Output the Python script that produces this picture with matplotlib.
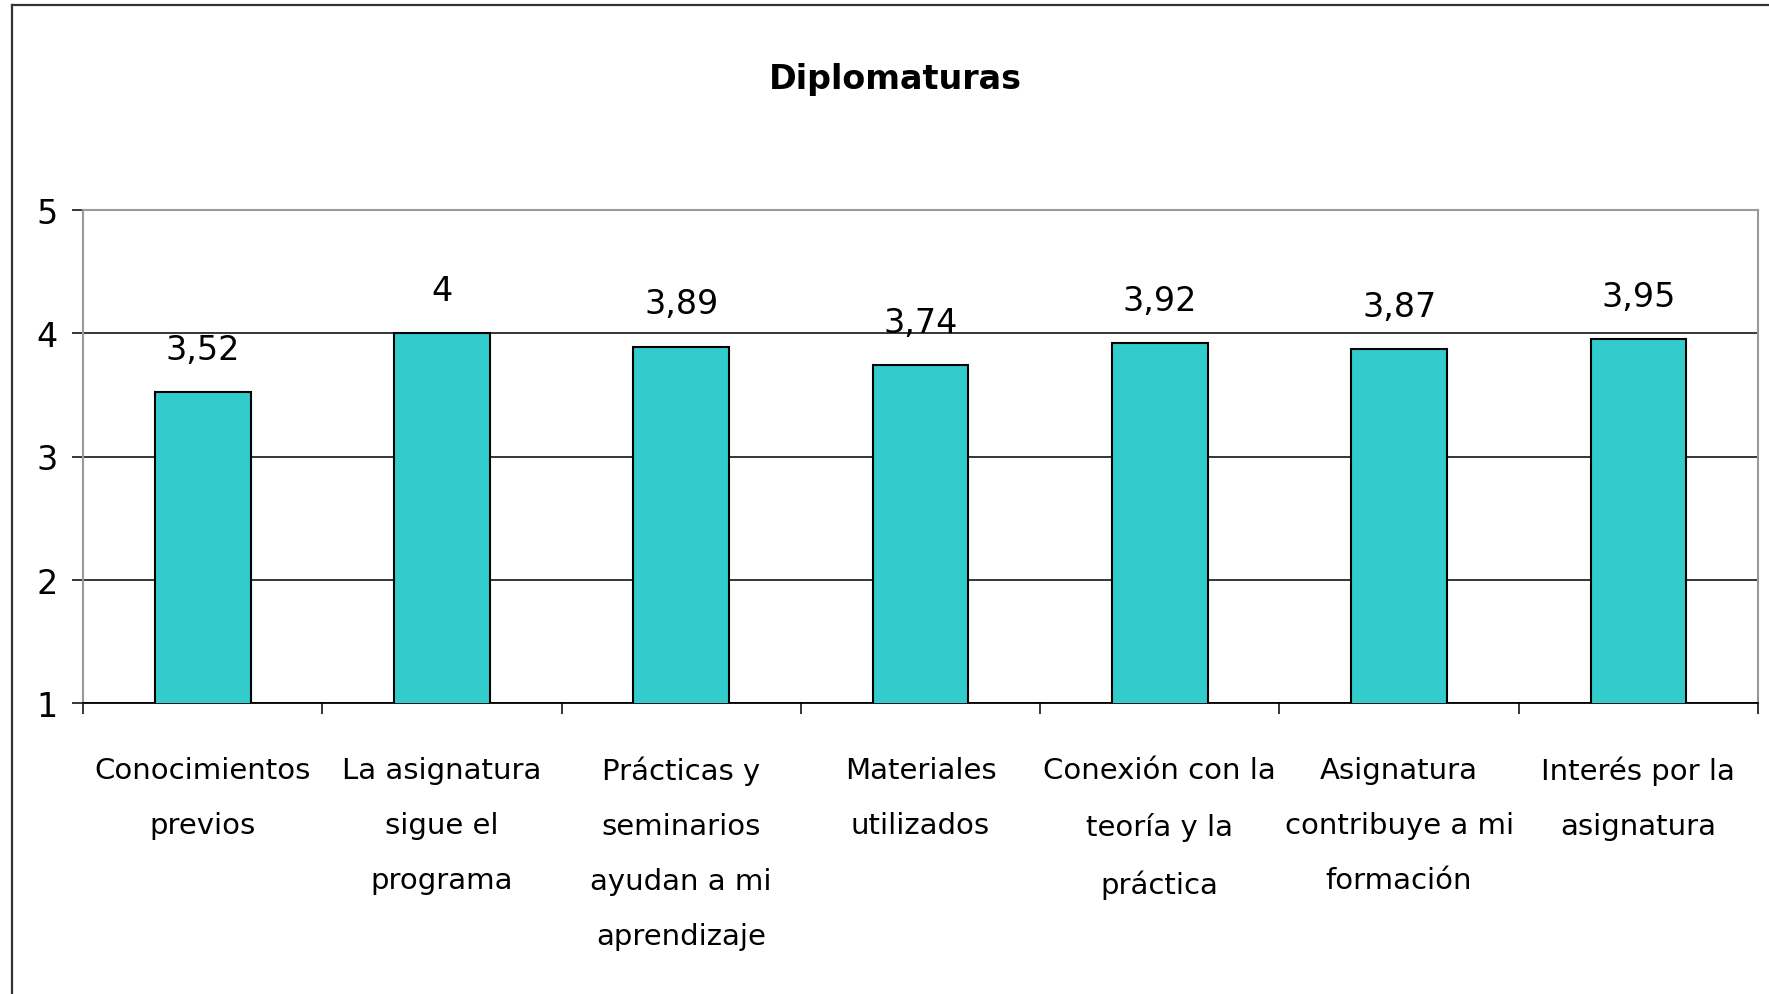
import matplotlib
matplotlib.use("Agg")
import matplotlib.pyplot as plt
from matplotlib.lines import Line2D
import numpy as np

# data
categories = ["Conocimientos\nprevios",
              "La asignatura\nsigue el\nprograma",
              "Prácticas y\nseminarios\nayudan a mi\naprendizaje",
              "Materiales\nutilizados",
              "Conexión con la\nteoría y la\npráctica",
              "Asignatura\ncontribuye a mi\nformación",
              "Interés por la\nasignatura"]
values = [3.52, 4.0, 3.89, 3.74, 3.92, 3.87, 3.95]
yticks = [1, 2, 3, 4, 5]
title = "Diplomaturas"

plt.rcParams['font.family'] = ['DejaVu Sans']

fig = plt.figure(figsize=(17.69, 9.95), dpi=100)
ax = fig.add_axes([83/1769, 1 - 704/995, (1758 - 83)/1769, (704 - 211)/995])

x = np.arange(len(values))
bars = ax.bar(x, values, width=0.40, bottom=0, color="#33CCCC",
              edgecolor="black", linewidth=1.5, zorder=3)

ax.set_ylim(1, 5)
ax.set_xlim(-0.5, len(values) - 0.5)
ax.set_yticks(yticks)
ax.set_yticklabels([str(t) for t in yticks], fontsize=24)
ax.yaxis.grid(True, color="black", linewidth=1.1, zorder=0)
ax.tick_params(axis="y", length=8, width=1.1, pad=10)

# boundaries as major ticks, labels on minor ticks at bar centres
ax.set_xticks(np.arange(-0.5, len(values), 1.0))
ax.set_xticklabels([])
ax.tick_params(axis="x", which="major", length=8, width=1.1)
ax.set_xticks(x, categories, minor=True)
ax.tick_params(axis="x", which="minor", length=0, pad=38, labelsize=21)
for lbl in ax.get_xticklabels(minor=True):
    lbl.set_linespacing(2.23)
    lbl.set_verticalalignment("top")

for s in ["top", "right", "left"]:
    ax.spines[s].set_color("#999999")
    ax.spines[s].set_linewidth(1.5)
ax.spines["bottom"].set_color("black")
ax.spines["bottom"].set_linewidth(1.3)

for xi, v in zip(x, values):
    txt = f"{v:g}".replace(".", ",")
    ax.annotate(txt, (xi, v), xytext=(0, 24), textcoords="offset points",
                ha="center", va="baseline", fontsize=24, zorder=4)

fig.text(895/1769, 1 - 80/995, title, ha="center", va="center",
         fontsize=24, fontweight="bold")

# outer chart frame (only left and top edges fall inside the picture)
fig.add_artist(Line2D([12/1769, 12/1769], [0, 1 - 6/995],
                      transform=fig.transFigure, color="#333333", linewidth=1.6))
fig.add_artist(Line2D([12/1769, 1], [1 - 6/995, 1 - 6/995],
                      transform=fig.transFigure, color="#333333", linewidth=1.6))

fig.savefig("out.png", dpi=100)
